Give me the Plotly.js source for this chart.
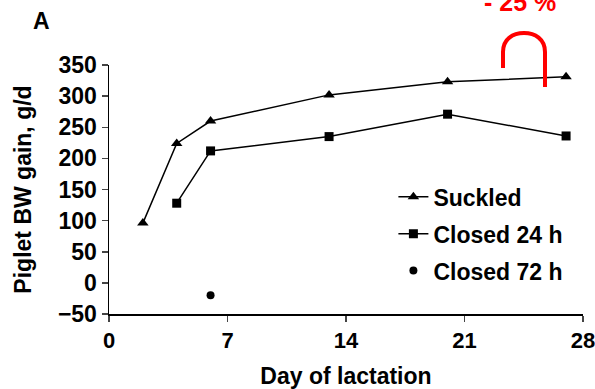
<!DOCTYPE html>
<html>
<head>
<meta charset="utf-8">
<script src="https://cdn.plot.ly/plotly-3.0.1.min.js"></script>
<style>html,body{margin:0;padding:0;background:#fff;}#chart{width:595px;height:389px;}</style>
</head>
<body>
<div id="chart"></div>
<script>
const suckledDays = [2, 4, 6, 13, 20, 27];
const suckledGain = [96, 224, 260, 302, 323, 331];
const closed24Days = [4, 6, 13, 20, 27];
const closed24Gain = [128, 212, 235, 271, 236];
const closed72Days = [6];
const closed72Gain = [-20];
const xTicks = [0, 7, 14, 21, 28];
const yTicks = [-50, 0, 50, 100, 150, 200, 250, 300, 350];

const FONT = 'Liberation Sans, Arial, sans-serif';
const lineStyle = {color: '#000', width: 1.5};

const traces = [
  {x: suckledDays, y: suckledGain, name: 'Suckled', mode: 'lines+markers', legendgroup: 'a',
   line: lineStyle, marker: {symbol: 'triangle-up', size: 10, color: '#000'}},
  {x: closed24Days, y: closed24Gain, name: 'Closed 24 h', mode: 'lines+markers', legendgroup: 'b',
   line: lineStyle, marker: {symbol: 'square', size: 9, color: '#000'}},
  {x: closed72Days, y: closed72Gain, name: 'Closed 72 h', mode: 'markers', legendgroup: 'c',
   marker: {symbol: 'circle', size: 8, color: '#000'}}
];

const px = v => (v - 109) / 474;
const py = v => (314 - v) / 249;
const arcPath = 'M ' + px(503) + ',' + py(68) + ' L ' + px(503) + ',' + py(52) +
  ' C ' + px(503) + ',' + py(39) + ' ' + px(513) + ',' + py(33) + ' ' + px(524) + ',' + py(33) +
  ' C ' + px(535) + ',' + py(33) + ' ' + px(545) + ',' + py(39) + ' ' + px(545) + ',' + py(52) +
  ' L ' + px(545) + ',' + py(87);

const layout = {
  width: 595, height: 389,
  margin: {l: 109, r: 12, t: 65, b: 75},
  paper_bgcolor: '#fff', plot_bgcolor: '#fff',
  font: {family: FONT, color: '#000'},
  showlegend: true,
  legend: {x: 0.6, y: 0.557, xanchor: 'left', yanchor: 'top', traceorder: 'grouped', tracegroupgap: 4,
           font: {family: FONT, size: 23, color: '#000', weight: 'bold'}, bgcolor: 'rgba(0,0,0,0)'},
  xaxis: {range: [0, 28], tickvals: xTicks, ticktext: xTicks.map(String), ticks: 'outside', ticklen: 6, tickwidth: 1.5,
          showline: true, linewidth: 1.5, linecolor: '#000', showgrid: false, zeroline: false,
          ticklabeloverflow: 'allow',
          tickfont: {family: FONT, size: 22, weight: 'bold'},
          title: {text: 'Day of lactation', font: {family: FONT, size: 23, weight: 'bold'}, standoff: 18}},
  yaxis: {range: [-50, 350], tickvals: yTicks, ticktext: yTicks.map(v => v < 0 ? '\u2212' + Math.abs(v) : String(v)),
          ticks: 'outside', ticklen: 6, tickwidth: 1.5,
          showline: true, linewidth: 1.5, linecolor: '#000', showgrid: false, zeroline: false,
          tickfont: {family: FONT, size: 23, weight: 'bold'},
          title: {text: 'Piglet BW gain, g/d', font: {family: FONT, size: 23, weight: 'bold'}, standoff: 20}},
  shapes: [{type: 'path', xref: 'paper', yref: 'paper', path: arcPath, line: {color: '#ff0000', width: 4}}],
  annotations: [
    {text: 'A', xref: 'paper', yref: 'paper', x: px(41), y: py(21), xanchor: 'center', yanchor: 'middle', showarrow: false,
     font: {family: FONT, size: 23, weight: 'bold'}},
    {text: '- 25 %', xref: 'paper', yref: 'paper', x: px(520), y: py(2), xanchor: 'center', yanchor: 'middle', showarrow: false,
     font: {family: FONT, size: 25, weight: 'bold', color: '#ff0000'}}
  ]
};

Plotly.newPlot('chart', traces, layout, {displayModeBar: false, staticPlot: true});
</script>
</body>
</html>
